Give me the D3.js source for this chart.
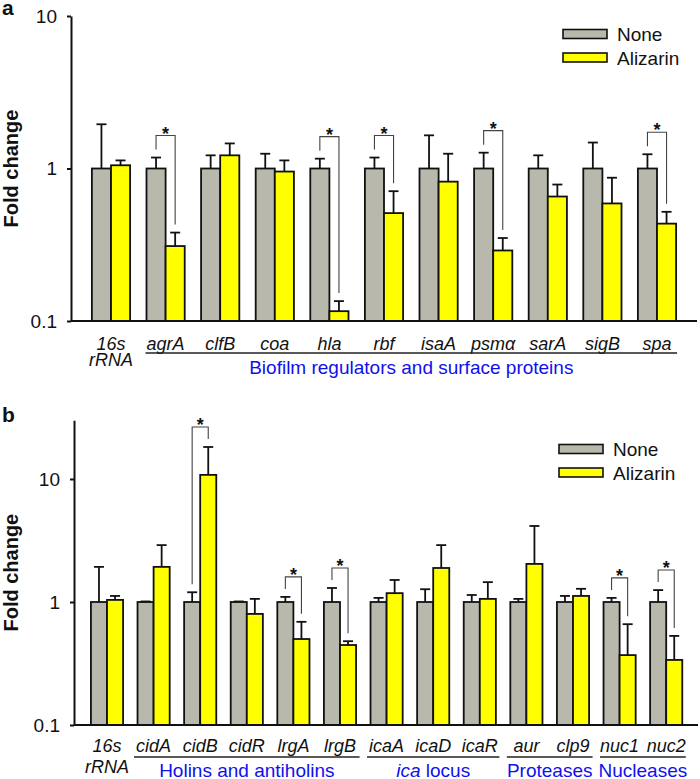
<!DOCTYPE html>
<html><head><meta charset="utf-8">
<script src="https://cdn.jsdelivr.net/npm/d3@7"></script>
<style>body{margin:0;background:#fff} svg text{font-family:"Liberation Sans",Arial,sans-serif}</style>
</head><body><svg id="c" width="700" height="779"></svg>
<script>
// ---------- data ----------
const series = ["None", "Alizarin"];

const genesA = ["16s rRNA","agrA","clfB","coa","hla","rbf","isaA","psmα","sarA","sigB","spa"];
const noneA     = [1,1,1,1,1,1,1,1,1,1,1];
const noneErrA  = [1.95,1.18,1.22,1.25,1.16,1.18,1.65,1.27,1.22,1.48,1.24];
const alizA     = [1.05,0.31,1.22,0.955,0.116,0.51,0.82,0.29,0.655,0.59,0.435];
const alizErrA  = [1.13,0.38,1.46,1.13,0.135,0.71,1.25,0.35,0.785,0.87,0.52];
const sigA      = ["agrA","hla","rbf","psmα","spa"];
const groupsA   = [{label:"Biofilm regulators and surface proteins", from:"agrA", to:"spa"}];
const ticksA    = [0.1, 1, 10];

const genesB = ["16s rRNA","cidA","cidB","cidR","lrgA","lrgB","icaA","icaD","icaR","aur","clp9","nuc1","nuc2"];
const noneB     = [1,1,1,1,1,1,1,1,1,1,1,1,1];
const noneErrB  = [1.93,1.01,1.2,1.01,1.1,1.3,1.08,1.27,1.14,1.06,1.12,1.08,1.25];
const alizB     = [1.04,1.93,10.8,0.8,0.5,0.447,1.18,1.89,1.06,2.04,1.12,0.37,0.338];
const alizErrB  = [1.12,2.9,18.2,1.06,0.69,0.48,1.51,2.9,1.45,4.15,1.28,0.66,0.53];
const sigB      = ["cidB","lrgA","lrgB","nuc1","nuc2"];
const groupsB   = [
  {label:"Holins and antiholins", from:"cidA", to:"lrgB"},
  {label:"ica locus", italicPrefix:"ica", from:"icaA", to:"icaR"},
  {label:"Proteases", from:"aur", to:"clp9"},
  {label:"Nucleases", from:"nuc1", to:"nuc2"}
];
const ticksB    = [0.1, 1, 10];

// ---------- drawing ----------
const colors = {None:"#b8b8ac", Alizarin:"#ffff00"};
const svg = d3.select("#c");

function drawPanel(o) {
  const g = svg.append("g");
  const y = d3.scaleLog().domain(o.yDomain).range(o.yRange);
  const x = d3.scaleBand().domain(o.genes).range(o.xRange).paddingInner(o.pi).paddingOuter(o.po);
  const xs = d3.scaleBand().domain(series).range([0, x.bandwidth()]);
  const y0 = o.yRange[0];
  const rows = o.genes.map((gn, i) => ({gene: gn, vals: [
    {k:"None", v:o.none[i], e:o.noneErr[i]},
    {k:"Alizarin", v:o.aliz[i], e:o.alizErr[i]}]}));

  // bars
  rows.forEach(r => r.vals.forEach(d => {
    g.append("rect")
      .attr("x", x(r.gene) + xs(d.k)).attr("y", y(d.v))
      .attr("width", xs.bandwidth()).attr("height", y0 - y(d.v))
      .attr("fill", colors[d.k]).attr("stroke", "#111").attr("stroke-width", 1.8);
  }));
  // error bars
  rows.forEach(r => r.vals.forEach(d => {
    const cx = x(r.gene) + xs(d.k) + xs.bandwidth()/2;
    g.append("line").attr("x1", cx).attr("x2", cx).attr("y1", y(d.v)).attr("y2", y(d.e))
      .attr("stroke", "#111").attr("stroke-width", 1.8);
    g.append("line").attr("x1", cx - o.cap).attr("x2", cx + o.cap).attr("y1", y(d.e)).attr("y2", y(d.e))
      .attr("stroke", "#111").attr("stroke-width", 1.8);
  }));
  // axes
  const ax = g.append("g").attr("transform", `translate(${o.axisX},0)`)
    .call(d3.axisLeft(y).tickValues(o.ticks).tickFormat(d => String(d)).tickSize(4).tickPadding(10).tickSizeOuter(0));
  ax.attr("font-family", null).attr("font-size", null);
  ax.selectAll("text").attr("font-size", 19).attr("fill", "#111");
  ax.selectAll("path, line").attr("stroke", "#111").attr("stroke-width", 2);
  g.append("line").attr("x1", o.axisX).attr("x2", o.axisEnd).attr("y1", y0).attr("y2", y0)
    .attr("stroke", "#111").attr("stroke-width", 2);

  // category labels
  o.genes.forEach(gn => {
    const cx = x(gn) + x.bandwidth()/2;
    const parts = gn.split(" ");
    parts.forEach((p, j) => {
      g.append("text").attr("x", cx).attr("y", j === 0 ? o.labelY : o.labelY2)
        .attr("text-anchor", "middle").attr("font-size", 18).attr("font-style", "italic")
        .attr("fill", "#111").text(p);
    });
  });
  // group underlines + labels
  o.groups.forEach(gr => {
    const x1 = x(gr.from) - o.ulPad, x2 = x(gr.to) + x.bandwidth() + o.ulPad;
    g.append("line").attr("x1", x1).attr("x2", x2).attr("y1", o.ulY).attr("y2", o.ulY)
      .attr("stroke", "#222").attr("stroke-width", 1.5);
    const t = g.append("text").attr("x", (x1 + x2)/2).attr("y", o.groupY)
      .attr("text-anchor", "middle").attr("font-size", 19).attr("fill", "#1010ee");
    if (gr.italicPrefix) {
      t.append("tspan").attr("font-style", "italic").text(gr.italicPrefix);
      t.append("tspan").text(gr.label.slice(gr.italicPrefix.length));
    } else t.text(gr.label);
  });
  // significance brackets
  o.sig.forEach(gn => {
    const i = o.genes.indexOf(gn);
    const gx = x(gn) + xs("None") + xs.bandwidth()/2;
    const axx = x(gn) + xs("Alizarin") + xs.bandwidth()/2;
    const gt = y(o.noneErr[i]), at = y(o.alizErr[i]);
    const top = Math.min(gt, at) - o.brGap;
    g.append("path").attr("d", `M${gx},${gt - 8}V${top}H${axx}V${at - 8}`)
      .attr("fill", "none").attr("stroke", "#444").attr("stroke-width", 1.1);
    g.append("text").attr("x", (gx + axx)/2).attr("y", top + 4).attr("text-anchor", "middle")
      .attr("font-size", 18).attr("font-weight", "bold").attr("fill", "#111").text("*");
  });
  // legend
  series.forEach((s, j) => {
    const ly = o.legY[j];
    g.append("rect").attr("x", o.legX).attr("y", ly - 4.5).attr("width", 44).attr("height", 9)
      .attr("fill", colors[s]).attr("stroke", "#111").attr("stroke-width", 1.6);
    g.append("text").attr("x", o.legX + 54).attr("y", ly + 7).attr("font-size", 19).attr("fill", "#111").text(s);
  });
  // y title
  const cy = (o.yRange[0] + o.yRange[1]) / 2;
  g.append("text").attr("transform", `translate(18,${cy}) rotate(-90)`).attr("text-anchor", "middle")
    .attr("font-size", 20).attr("font-weight", "bold").attr("fill", "#111").text("Fold change");
  // panel letter
  g.append("text").attr("x", 2).attr("y", o.letterY).attr("font-size", 21).attr("font-weight", "bold")
    .attr("fill", "#111").text(o.letter);
}

drawPanel({
  genes: genesA, none: noneA, noneErr: noneErrA, aliz: alizA, alizErr: alizErrA, sig: sigA,
  groups: groupsA, ticks: ticksA, yDomain: [0.1, 10], yRange: [321, 16],
  xRange: [83.7, 684.3], pi: 0.3, po: 0.15, cap: 5, axisX: 71, axisEnd: 697,
  labelY: 350, labelY2: 366, ulY: 353, ulPad: 1, groupY: 374, brGap: 22,
  legX: 563, legY: [34, 57.5], letter: "a", letterY: 15
});
drawPanel({
  genes: genesB, none: noneB, noneErr: noneErrB, aliz: alizB, alizErr: alizErrB, sig: sigB,
  groups: groupsB, ticks: ticksB, yDomain: [0.1, 30], yRange: [725, 420.3],
  xRange: [83.7, 689.5], pi: 0.31, po: 0.155, cap: 5, axisX: 74, axisEnd: 698,
  labelY: 752, labelY2: 773, ulY: 757, ulPad: 3.5, groupY: 777, brGap: 20,
  legX: 559, legY: [449, 472.5], letter: "b", letterY: 422
});
</script>
</body></html>
